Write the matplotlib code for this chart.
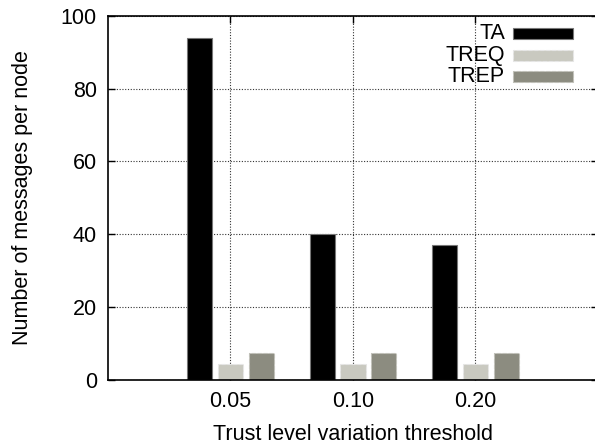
import numpy as np
import matplotlib
matplotlib.use("Agg")
import matplotlib.pyplot as plt
from matplotlib.patches import Rectangle

plt.rcParams['font.family'] = ['Liberation Sans', 'DejaVu Sans']

thresholds = ['0.05', '0.10', '0.20']
series_names = ['TA', 'TREQ', 'TREP']
ta = [94, 40, 37]
treq = [4.3, 4.3, 4.3]
trep = [7.3, 7.3, 7.3]

colors = ['#000000', '#c9c9c0', '#8c8c80']
edges = ['#777777', '#e6e6e6', '#c0c0b8']
styles = ['-', '--', '--']
fs = 15.5

fig = plt.figure(figsize=(5.95, 4.47), dpi=100)
ax = fig.add_axes([0.1815, 0.151, 0.8235, 0.813])

x = np.arange(1, len(thresholds) + 1)
width = 0.205
offsets = [-0.25, 0.0, 0.25]
for vals, off, c, e, ls in zip([ta, treq, trep], offsets, colors, edges, styles):
    ax.bar(x + off, vals, width, color=c, edgecolor=e, linewidth=0.8,
           linestyle=ls, zorder=2)

ax.set_xlim(0, 4)
ax.set_ylim(0, 100)
ax.set_xticks(x)
ax.set_xticklabels(thresholds)
ax.set_yticks(np.arange(0, 101, 20))

ax.grid(True, linestyle=(0, (1, 1.5)), color='#333333', linewidth=0.8, zorder=0)
ax.tick_params(direction='in', length=5, width=1, labelsize=fs, pad=8,
               top=True, right=True)
for s in ax.spines.values():
    s.set_linewidth(1.2)

ax.set_xlabel('Trust level variation threshold', fontsize=fs, labelpad=9)
ax.set_ylabel('Number of messages per node', fontsize=fs, labelpad=20)

# key in the upper right corner, labels right-aligned before the swatches
key_y = [0.952, 0.891, 0.834]
for name, yk, c, e, ls in zip(series_names, key_y, colors, edges, styles):
    ax.text(0.810, yk, name, transform=ax.transAxes, ha='right', va='center',
            fontsize=fs)
    ax.add_patch(Rectangle((0.8265, yk - 0.015), 0.1224, 0.030,
                           transform=ax.transAxes, facecolor=c, edgecolor=e,
                           linewidth=0.8, linestyle=ls, zorder=3))

fig.savefig('out.png', dpi=100)
